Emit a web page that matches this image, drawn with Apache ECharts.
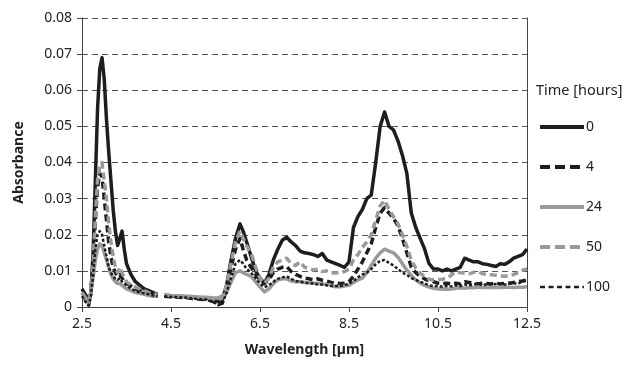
<!DOCTYPE html>
<html>
<head>
<meta charset="utf-8">
<script src="https://cdn.jsdelivr.net/npm/echarts@6/dist/echarts.min.js"></script>
<style>
  html, body { margin: 0; padding: 0; background: #fff; }
  #chart { width: 628px; height: 369px; }
</style>
</head>
<body>
<div id="chart"></div>
<script>
// wavelength grid (um); 4.27 is the gap in the spectra
const wavelength = [
  2.5, 2.55, 2.6, 2.65, 2.7, 2.75, 2.8, 2.85, 2.9, 2.95,
  3.0, 3.05, 3.1, 3.15, 3.2, 3.25, 3.3, 3.35, 3.4, 3.45, 3.5,
  3.6, 3.7, 3.8, 3.9, 4.0, 4.1, 4.2, 4.27,
  4.35, 4.5, 4.7, 4.9, 5.1, 5.3, 5.45, 5.55, 5.65, 5.75, 5.85, 5.95,
  6.05, 6.12, 6.2, 6.3, 6.4,
  6.5, 6.6, 6.7, 6.8, 6.9, 7.0, 7.1, 7.2, 7.3, 7.4, 7.5, 7.6, 7.7, 7.8, 7.9, 8.0, 8.1, 8.2, 8.3, 8.4,
  8.5, 8.6, 8.7, 8.8, 8.9, 9.0, 9.1, 9.2, 9.3, 9.4, 9.5, 9.6, 9.7, 9.8, 9.9, 10.0, 10.1, 10.2, 10.3, 10.4,
  10.5, 10.6, 10.7, 10.8, 10.9, 11.0, 11.1, 11.2, 11.3, 11.4, 11.5, 11.6, 11.7, 11.8, 11.9, 12.0, 12.1, 12.2, 12.3, 12.4, 12.5
];

const abs0h = [
  0.005, 0.004, 0.003, 0.001, 0.004, 0.015, 0.035, 0.055, 0.066, 0.069,
  0.063, 0.052, 0.043, 0.035, 0.027, 0.021, 0.017, 0.019, 0.021, 0.016, 0.012,
  0.009, 0.007, 0.006, 0.005, 0.0045, 0.004, 0.0035, null,
  0.003, 0.003, 0.003, 0.0028, 0.0026, 0.0025, 0.0022, 0.0015, 0.002, 0.006, 0.013, 0.019,
  0.023, 0.021, 0.018, 0.014, 0.010,
  0.008, 0.0066, 0.009, 0.013, 0.016, 0.0185, 0.0193, 0.018, 0.017, 0.0155, 0.015, 0.0148, 0.0145, 0.014, 0.0148, 0.013, 0.0125, 0.012, 0.0115, 0.011,
  0.0125, 0.022, 0.025, 0.027, 0.030, 0.031, 0.040, 0.050, 0.054, 0.050, 0.049, 0.046, 0.042, 0.037, 0.026, 0.022, 0.019, 0.016, 0.012, 0.0105,
  0.0105, 0.0100, 0.0105, 0.010, 0.0105, 0.011, 0.0135, 0.013, 0.0125, 0.0125, 0.012, 0.0118, 0.0115, 0.0112, 0.012, 0.0118, 0.0125, 0.0135, 0.014, 0.0145, 0.016
];

const abs4h = [
  0.003, 0.003, 0.001, 0.0005, 0.004, 0.012, 0.024, 0.033, 0.037, 0.036,
  0.030, 0.024, 0.018, 0.014, 0.011, 0.0095, 0.0085, 0.009, 0.008, 0.007, 0.0065,
  0.0058, 0.005, 0.0045, 0.004, 0.0038, 0.0035, 0.003, null,
  0.003, 0.0028, 0.0027, 0.0025, 0.0022, 0.002, 0.0015, 0.0008, 0.001, 0.005, 0.011, 0.016,
  0.019, 0.016, 0.013, 0.011, 0.009,
  0.0075, 0.0065, 0.0075, 0.0095, 0.0105, 0.011, 0.0112, 0.0098, 0.009, 0.0085, 0.008, 0.0078, 0.0075, 0.0078, 0.0074, 0.0072, 0.0068, 0.0066, 0.0065, 0.0066,
  0.007, 0.0085, 0.0105, 0.0125, 0.015, 0.0175, 0.022, 0.026, 0.0275, 0.026, 0.0245, 0.0225, 0.019, 0.015, 0.011, 0.0095, 0.0085, 0.0078, 0.0072, 0.007,
  0.0066, 0.0065, 0.0066, 0.0064, 0.0066, 0.0064, 0.007, 0.0068, 0.0066, 0.0064, 0.0066, 0.0065, 0.0064, 0.0066, 0.0064, 0.0065, 0.0066, 0.0068, 0.007, 0.0072, 0.0075
];

const abs24h = [
  0.004, 0.003, 0.002, 0.002, 0.004, 0.008, 0.013, 0.016, 0.0175, 0.017,
  0.015, 0.013, 0.011, 0.009, 0.0078, 0.007, 0.0065, 0.0065, 0.006, 0.0055, 0.005,
  0.0045, 0.004, 0.0038, 0.0035, 0.0032, 0.003, 0.003, null,
  0.0035, 0.0032, 0.003, 0.003, 0.0028, 0.0027, 0.0025, 0.0025, 0.003, 0.004, 0.007, 0.0095,
  0.010, 0.0095, 0.009, 0.0085, 0.007,
  0.0055, 0.0042, 0.005, 0.0065, 0.0075, 0.0078, 0.0078, 0.0072, 0.007, 0.007, 0.0068, 0.0068, 0.0066, 0.0066, 0.0064, 0.0062, 0.006, 0.0056, 0.0056, 0.0058,
  0.006, 0.0068, 0.0075, 0.008, 0.0095, 0.0115, 0.0135, 0.015, 0.016, 0.0155, 0.015, 0.0138, 0.012, 0.0102, 0.0088, 0.0075, 0.0066, 0.006, 0.0055, 0.0052,
  0.005, 0.005, 0.0049, 0.005, 0.0052, 0.0053, 0.0052, 0.0054, 0.0053, 0.0055, 0.0054, 0.0055, 0.0054, 0.0055, 0.0054, 0.0055, 0.0055, 0.0054, 0.0055, 0.0055, 0.0056
];

const abs50h = [
  0.004, 0.003, 0.002, 0.001, 0.004, 0.012, 0.025, 0.035, 0.039, 0.040,
  0.035, 0.030, 0.023, 0.018, 0.014, 0.011, 0.0095, 0.011, 0.0095, 0.008, 0.007,
  0.006, 0.0055, 0.005, 0.0045, 0.004, 0.0035, 0.0035, null,
  0.0035, 0.003, 0.003, 0.0028, 0.0027, 0.0025, 0.0022, 0.002, 0.0025, 0.006, 0.012, 0.018,
  0.021, 0.019, 0.017, 0.015, 0.011,
  0.008, 0.0065, 0.008, 0.011, 0.0125, 0.013, 0.0135, 0.012, 0.0115, 0.0125, 0.011, 0.0108, 0.0102, 0.0105, 0.0098, 0.010, 0.0095, 0.0094, 0.0096, 0.0098,
  0.0105, 0.013, 0.0145, 0.0165, 0.018, 0.020, 0.024, 0.028, 0.0295, 0.027, 0.025, 0.023, 0.020, 0.0167, 0.013, 0.0108, 0.0093, 0.0085, 0.0077, 0.0075,
  0.0076, 0.0077, 0.008, 0.0088, 0.0098, 0.0095, 0.0094, 0.0092, 0.0096, 0.0098, 0.0092, 0.009, 0.0089, 0.0088, 0.0086, 0.0085, 0.0086, 0.009, 0.0095, 0.0102, 0.0105
];

const abs100h = [
  0.003, 0.002, 0.001, 0.0005, 0.003, 0.009, 0.016, 0.020, 0.021, 0.020,
  0.017, 0.014, 0.011, 0.0095, 0.0085, 0.0078, 0.0075, 0.008, 0.007, 0.0065, 0.006,
  0.005, 0.0045, 0.004, 0.0038, 0.0035, 0.0032, 0.003, null,
  0.003, 0.0028, 0.0027, 0.0025, 0.0022, 0.002, 0.0015, 0.0005, 0.0008, 0.004, 0.008, 0.012,
  0.013, 0.012, 0.0105, 0.0095, 0.008,
  0.0065, 0.0055, 0.006, 0.007, 0.0078, 0.0082, 0.0085, 0.0078, 0.0072, 0.007, 0.0068, 0.0065, 0.0066, 0.0062, 0.0062, 0.006, 0.0058, 0.0058, 0.0058, 0.006,
  0.0065, 0.0072, 0.0082, 0.009, 0.0095, 0.0105, 0.0118, 0.0128, 0.013, 0.0122, 0.0115, 0.0105, 0.0095, 0.0089, 0.008, 0.0075, 0.007, 0.0065, 0.006, 0.0058,
  0.0058, 0.0056, 0.0058, 0.0057, 0.006, 0.0058, 0.0062, 0.006, 0.0062, 0.0064, 0.006, 0.0063, 0.0062, 0.0064, 0.0063, 0.0062, 0.0065, 0.0066, 0.0065, 0.007, 0.0075
];

const xTicks = [2.5, 4.5, 6.5, 8.5, 10.5, 12.5];
const timeLabels = ['0', '4', '24', '50', '100'];

const FONT = 'Noto Sans';
const BLACK = '#1e1e1e';
const GREY = '#9a9a9a';

const toPairs = (arr) => wavelength.map((w, i) => [w, arr[i]]);

const seriesDefs = [
  { name: timeLabels[0], values: abs0h, color: BLACK, type: 'solid', width: 3.5, legendType: 'solid', legendWidth: 4 },
  { name: timeLabels[1], values: abs4h, color: BLACK, type: [7, 4], width: 3.5, legendType: [10, 5], legendWidth: 4 },
  { name: timeLabels[2], values: abs24h, color: GREY, type: 'solid', width: 3.5, legendType: 'solid', legendWidth: 4 },
  { name: timeLabels[3], values: abs50h, color: GREY, type: [7, 4], width: 3.5, legendType: [10, 5], legendWidth: 4 },
  { name: timeLabels[4], values: abs100h, color: BLACK, type: [3, 2], width: 2.5, legendType: [5, 3.5], legendWidth: 2.5 },
];

const chart = echarts.init(document.getElementById('chart'), null, { renderer: 'canvas' });

chart.setOption({
  animation: false,
  backgroundColor: '#fff',
  textStyle: { fontFamily: FONT },
  title: {
    text: 'Time [hours]',
    left: 536,
    top: 83,
    padding: 0,
    textStyle: { fontFamily: FONT, fontSize: 14.5, fontWeight: 'normal', color: '#222' },
  },
  legend: {
    orient: 'vertical',
    left: 538,
    top: 120,
    padding: 0,
    itemWidth: 44,
    itemHeight: 10,
    itemGap: 26,
    data: seriesDefs.map((s) => ({
      name: s.name,
      lineStyle: { width: s.legendWidth, type: s.legendType },
    })),
    itemStyle: { color: 'transparent', borderWidth: 0, opacity: 0 },
    textStyle: { fontFamily: FONT, fontSize: 14, color: '#222', padding: [0, 0, 0, -3] },
  },
  grid: { left: 82, right: 101, top: 18, bottom: 62 },
  xAxis: {
    type: 'value',
    min: 2.5,
    max: 12.5,
    name: 'Wavelength [\u00b5m]',
    nameLocation: 'middle',
    nameGap: 36,
    nameTextStyle: { fontFamily: FONT, fontSize: 14, fontWeight: 'bold', color: '#222' },
    axisLine: { show: true, onZero: false, lineStyle: { color: '#444', width: 1 } },
    axisTick: { show: true, length: 5, customValues: xTicks, lineStyle: { color: '#444' } },
    axisLabel: {
      customValues: xTicks,
      margin: 10,
      fontFamily: FONT,
      fontSize: 14,
      color: '#222',
      formatter: (v) => v.toFixed(1),
    },
    splitLine: { show: false },
  },
  yAxis: [
    {
      type: 'value',
      min: 0,
      max: 0.08,
      interval: 0.01,
      name: 'Absorbance',
      nameLocation: 'middle',
      nameGap: 56,
      nameTextStyle: { fontFamily: FONT, fontSize: 14, fontWeight: 'bold', color: '#222' },
      axisLine: { show: true, lineStyle: { color: '#444', width: 1 } },
      axisTick: { show: true, length: 5, lineStyle: { color: '#444' } },
      axisLabel: {
        margin: 10,
        fontFamily: FONT,
        fontSize: 14,
        color: '#222',
        formatter: (v) => (v === 0 ? '0' : v.toFixed(2)),
      },
      splitLine: { show: true, lineStyle: { color: '#555', width: 1, type: [6, 4] } },
    },
    {
      // right frame line
      type: 'value',
      min: 0,
      max: 0.08,
      position: 'right',
      axisLine: { show: true, lineStyle: { color: '#444', width: 1 } },
      axisTick: { show: false },
      axisLabel: { show: false },
      splitLine: { show: false },
    },
  ],
  series: seriesDefs.map((s) => ({
    type: 'line',
    name: s.name,
    data: toPairs(s.values),
    yAxisIndex: 0,
    symbol: 'none',
    connectNulls: false,
    itemStyle: { color: s.color },
    lineStyle: { color: s.color, width: s.width, type: s.type, join: 'round' },
  })),
});
</script>
</body>
</html>
